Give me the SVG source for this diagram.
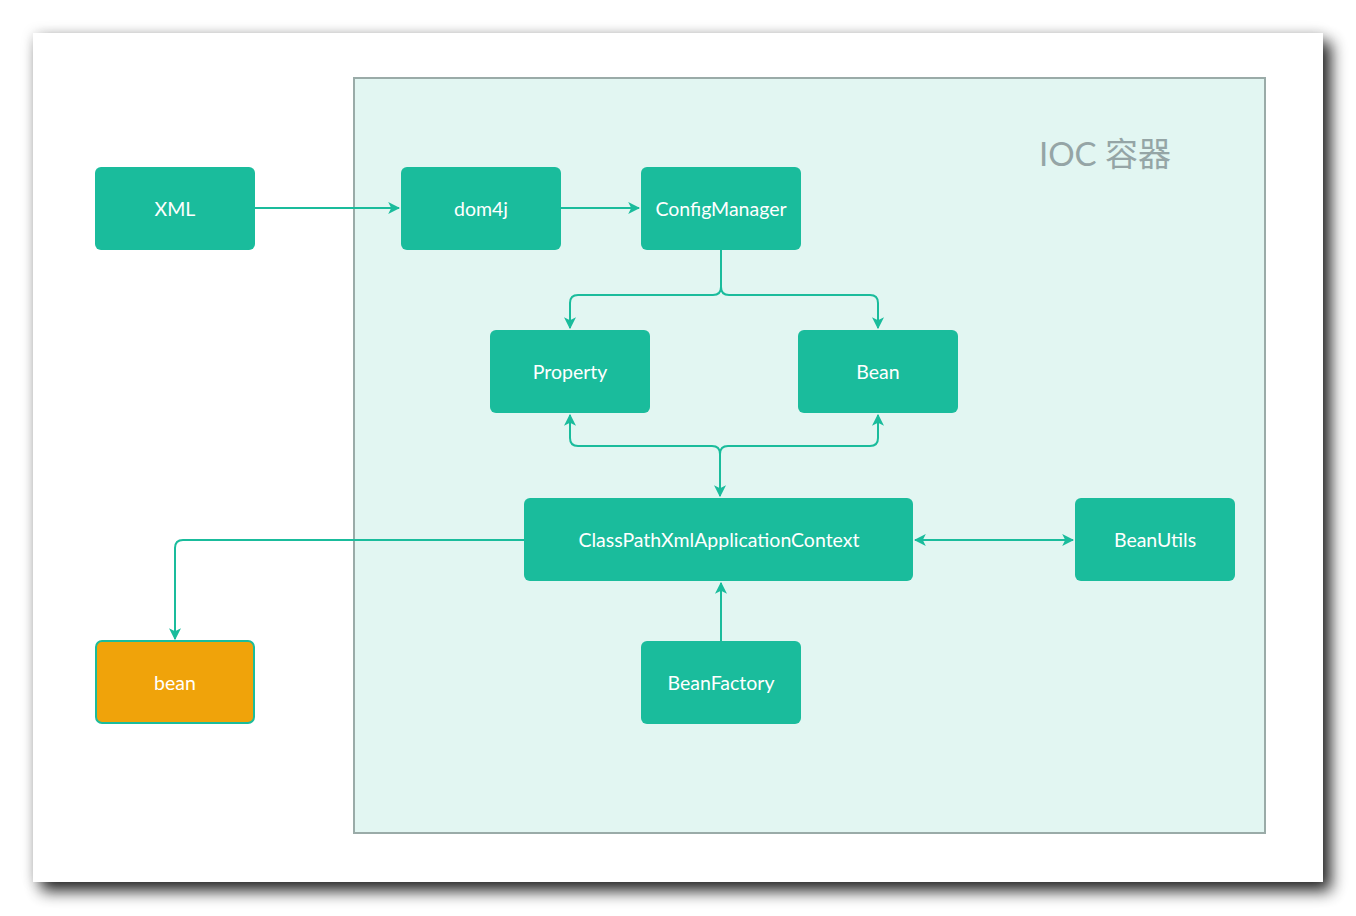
<svg xmlns="http://www.w3.org/2000/svg" width="1356" height="916" viewBox="0 0 1356 916">
<defs>
<filter id="sh" x="-5%" y="-5%" width="110%" height="110%">
<feGaussianBlur in="SourceAlpha" stdDeviation="8" result="b"/>
<feOffset in="b" dx="8" dy="9" result="o"/>
<feComponentTransfer in="o" result="o2"><feFuncA type="linear" slope="0.85"/></feComponentTransfer>
<feGaussianBlur in="SourceAlpha" stdDeviation="7" result="h"/>
<feComponentTransfer in="h" result="h2"><feFuncA type="linear" slope="0.15"/></feComponentTransfer>
<feMerge><feMergeNode in="h2"/><feMergeNode in="o2"/><feMergeNode in="SourceGraphic"/></feMerge>
</filter>
<marker id="ah" viewBox="0 0 10 10" refX="9" refY="5" markerWidth="6" markerHeight="6" orient="auto-start-reverse" markerUnits="strokeWidth">
<path d="M0,0 L10,5 L0,10 L2.5,5 Z" fill="#1abc9c"/>
</marker>
<style>
.n{fill:#1abc9c;}
.t{fill:#ffffff;font-family:Lato,"Open Sans","Liberation Sans",sans-serif;font-size:19.5px;text-anchor:middle;dominant-baseline:central;}
.c{fill:none;stroke:#1abc9c;stroke-width:2;}
</style>
</defs>
<rect x="0" y="0" width="1356" height="916" fill="#ffffff"/>
<rect x="33" y="33" width="1290" height="849" fill="#ffffff" filter="url(#sh)"/>
<g id="ioc">
<rect x="354" y="78" width="911" height="755" fill="#e2f6f2" stroke="#9aaba8" stroke-width="2"/>
<text x="1105" y="153" fill="#95a5a6" font-family="Lato,'Open Sans','Liberation Sans','Noto Sans CJK SC',sans-serif" font-size="33" text-anchor="middle" dominant-baseline="central">IOC 容器</text>
</g>
<g id="connectors">
<path class="c" d="M255,208 H399" marker-end="url(#ah)"/>
<path class="c" d="M561,208 H639" marker-end="url(#ah)"/>
<path class="c" d="M721,250 V287 Q721,295 713,295 H578 Q570,295 570,303 V328" marker-end="url(#ah)"/>
<path class="c" d="M721,250 V287 Q721,295 729,295 H870 Q878,295 878,303 V328" marker-end="url(#ah)"/>
<path class="c" d="M570,415 V438 Q570,446 578,446 H712 Q720,446 720,454 V496" marker-start="url(#ah)" marker-end="url(#ah)"/>
<path class="c" d="M878,415 V438 Q878,446 870,446 H728 Q720,446 720,454 V496" marker-start="url(#ah)"/>
<path class="c" d="M915,540 H1073" marker-start="url(#ah)" marker-end="url(#ah)"/>
<path class="c" d="M721,641 V583" marker-end="url(#ah)"/>
<path class="c" d="M524,540 H183 Q175,540 175,548 V639" marker-end="url(#ah)"/>
</g>
<g id="xml"><rect class="n" x="95" y="167" width="160" height="83" rx="6"/><text class="t" x="175" y="208">XML</text></g>
<g id="dom4j"><rect class="n" x="401" y="167" width="160" height="83" rx="6"/><text class="t" x="481" y="208">dom4j</text></g>
<g id="configmanager"><rect class="n" x="641" y="167" width="160" height="83" rx="6"/><text class="t" x="721" y="208">ConfigManager</text></g>
<g id="property"><rect class="n" x="490" y="330" width="160" height="83" rx="6"/><text class="t" x="570" y="371">Property</text></g>
<g id="bean-def"><rect class="n" x="798" y="330" width="160" height="83" rx="6"/><text class="t" x="878" y="371">Bean</text></g>
<g id="context"><rect class="n" x="524" y="498" width="389" height="83" rx="6"/><text class="t" x="719" y="539">ClassPathXmlApplicationContext</text></g>
<g id="beanutils"><rect class="n" x="1075" y="498" width="160" height="83" rx="6"/><text class="t" x="1155" y="539">BeanUtils</text></g>
<g id="beanfactory"><rect class="n" x="641" y="641" width="160" height="83" rx="6"/><text class="t" x="721" y="682">BeanFactory</text></g>
<g id="bean"><rect x="96" y="641" width="158" height="82" rx="6" fill="#f0a30a" stroke="#1abc9c" stroke-width="2"/><text class="t" x="175" y="682">bean</text></g>
</svg>
